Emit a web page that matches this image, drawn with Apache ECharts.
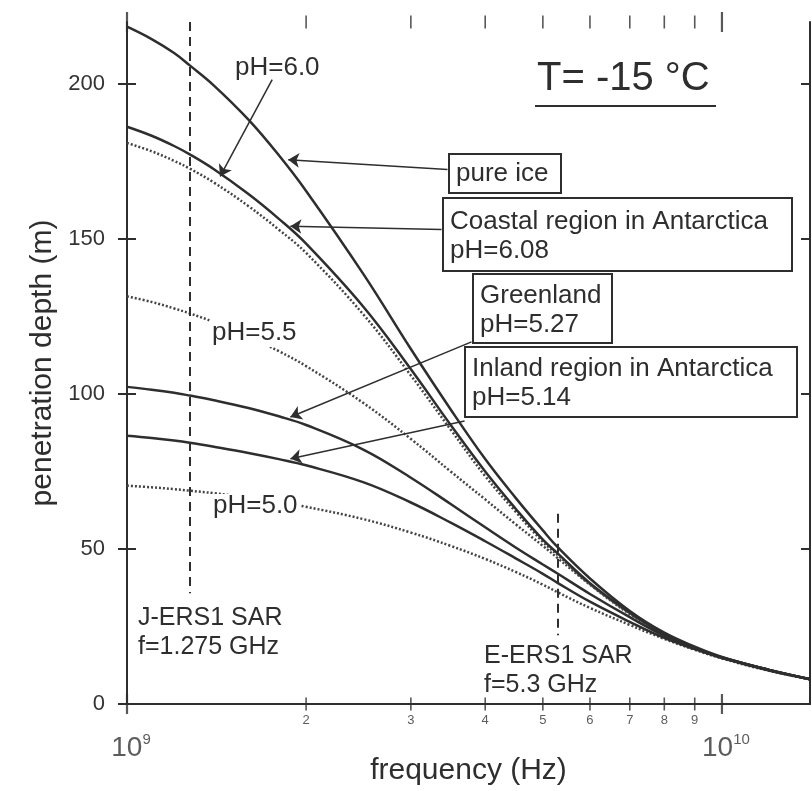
<!DOCTYPE html>
<html>
<head>
<meta charset="utf-8">
<script src="https://cdn.jsdelivr.net/npm/echarts@6/dist/echarts.min.js"></script>
<style>
  html, body { margin: 0; padding: 0; background: #fff; }
  #chart { width: 812px; height: 791px; }
</style>
</head>
<body>
<div id="chart"></div>
<script>
// frequencies in GHz
var freqGHz = [1.0, 1.1, 1.2, 1.275, 1.4, 1.6, 1.8, 2.0, 2.5, 3.0, 3.5, 4.0, 4.5, 5.0, 5.3, 6, 7, 8, 9, 10, 12, 14.06];
// penetration depth (m)
var pureIce   = [218.5, 214.5, 210, 206, 199.5, 188.5, 177, 165.5, 138.5, 114.5, 95, 79, 66.5, 56, 50.5, 40.5, 30, 23, 18.5, 15.2, 11, 8];
var coastal   = [186.2, 183.3, 180, 177.3, 172.5, 164.5, 156.5, 148.5, 128, 108, 90, 75, 63, 53, 48.5, 39, 29.5, 22.5, 18, 15, 11, 8];
var ph60      = [181, 178.3, 175.2, 172.7, 168.2, 160.6, 153, 145.5, 125.5, 106, 88.5, 73.5, 62, 52.3, 48, 38.7, 29.3, 22.5, 18, 15, 11, 8];
var ph55      = [131.5, 129.7, 127.6, 126, 123.2, 118.6, 113.8, 109, 97, 85.5, 75, 66, 58, 51, 47, 38.5, 29, 22.5, 18, 15, 11, 8];
var greenland = [102.3, 101.4, 100.4, 99.5, 98, 95.5, 92.8, 90, 82, 73, 64.5, 57, 50.5, 45, 42, 35.5, 28, 22, 18, 15, 11, 8];
var inland    = [86.5, 85.8, 85, 84.3, 83, 81, 79, 77, 71.5, 65, 58.5, 52.5, 47, 42, 39, 33, 26.5, 21.3, 17.7, 14.8, 10.8, 8];
var ph50      = [70.4, 69.9, 69.3, 68.8, 68, 66.6, 65.1, 63.6, 59.6, 55.3, 51, 46.8, 42.6, 38.5, 36, 31, 25.5, 21, 17.5, 14.7, 10.7, 8];

var yTicks = [0, 50, 100, 150, 200];
var minorTicks = [2, 3, 4, 5, 6, 7, 8, 9];   // x 1e9
var majorTicks = [1e9, 1e10];
var yMax = 220;

// satellites: [f (Hz), top depth, bottom depth]
var sarLines = [[1.275e9, 220, 35.7], [5.3e9, 61.4, 22.2]];
// arrows: [from f, from depth, to f, to depth]
var arrows = [
  [1.754e9, 201.4, 1.434e9, 170.2],
  [3.457e9, 172.4, 1.866e9, 175.6],
  [3.378e9, 153.1, 1.882e9, 154.1],
  [3.794e9, 116.8, 1.882e9, 92.6],
  [3.693e9, 91.3, 1.882e9, 79.1]
];

var FONT = 'Liberation Sans, Arial, sans-serif';
var INK = '#2e2e2e';

function pts(arr) {
  return freqGHz.map(function (f, i) { return [f * 1e9, arr[i]]; });
}

function curve(name, arr, dotted) {
  return {
    name: name,
    type: 'line',
    data: pts(arr),
    showSymbol: false,
    smooth: 0.4,
    itemStyle: { color: dotted ? '#444' : INK },
    lineStyle: dotted
      ? { color: '#444', width: 2.5, type: [2, 2] }
      : { color: INK, width: 2.5 },
    z: dotted ? 2 : 3
  };
}

var tickBottom = minorTicks.map(function (v) { return [v * 1e9, 0]; });
var tickTop = minorTicks.map(function (v) { return [v * 1e9, yMax]; });

var chart = echarts.init(document.getElementById('chart'));

function txt(x, y, s, size, extra) {
  var o = {
    type: 'text', x: x, y: y, z: 100,
    style: {
      text: s, fontSize: size, fontFamily: FONT, fill: INK,
      textVerticalAlign: 'middle', verticalAlign: 'middle', lineHeight: 29
    }
  };
  if (extra) Object.assign(o.style, extra);
  return o;
}
function box(x, y, w, h, stroke) {
  return {
    type: 'rect', z: 99,
    shape: { x: x, y: y, width: w, height: h },
    style: { fill: '#fff', stroke: stroke ? INK : null, lineWidth: 2 }
  };
}

var option = {
  animation: false,
  backgroundColor: '#fff',
  grid: { left: 127, right: 2, top: 22, bottom: 85 },
  xAxis: [{
    type: 'log', logBase: 10, min: 1e9, max: 1.406e10,
    axisLine: { lineStyle: { color: INK, width: 2 } },
    axisTick: { show: false }, axisLabel: { show: false }, splitLine: { show: false },
    name: 'frequency (Hz)', nameLocation: 'middle', nameGap: 52,
    nameTextStyle: { fontSize: 30, color: INK, fontFamily: FONT }
  }, {
    type: 'log', logBase: 10, min: 1e9, max: 1.406e10, position: 'top',
    axisLine: { lineStyle: { color: INK, width: 2 } },
    axisTick: { show: false }, axisLabel: { show: false }, splitLine: { show: false }
  }],
  yAxis: [{
    type: 'value', min: 0, max: yMax,
    axisLine: { show: true, lineStyle: { color: INK, width: 2 } },
    axisTick: { show: true, length: 9, customValues: yTicks, lineStyle: { color: INK, width: 2 } },
    axisLabel: { margin: 22, fontSize: 22, color: '#333', fontFamily: FONT, customValues: yTicks },
    splitLine: { show: false },
    name: 'penetration depth (m)', nameLocation: 'middle', nameGap: 68,
    nameTextStyle: { fontSize: 30, color: INK, fontFamily: FONT }
  }, {
    type: 'value', min: 0, max: yMax, position: 'left',
    axisLine: { show: false },
    axisTick: { show: true, inside: true, length: 9, customValues: yTicks, lineStyle: { color: INK, width: 2 } },
    axisLabel: { show: false }, splitLine: { show: false }
  }, {
    type: 'value', min: 0, max: yMax, position: 'right',
    axisLine: { show: true, lineStyle: { color: INK, width: 2 } },
    axisTick: { show: true, inside: true, length: 9, customValues: yTicks, lineStyle: { color: INK, width: 2 } },
    axisLabel: { show: false }, splitLine: { show: false }
  }],
  series: [
    Object.assign(curve('pure ice', pureIce, false), {
      markLine: {
        silent: true, symbol: ['none', 'arrow'], symbolSize: 11,
        label: { show: false },
        itemStyle: { color: INK },
        lineStyle: { color: INK, width: 1.5, type: 'solid' },
        data: arrows.map(function (a) {
          return [{ coord: [a[0], a[1]], symbol: 'none' }, { coord: [a[2], a[3]], symbol: 'arrow', symbolSize: 11 }];
        })
      }
    }),
    Object.assign(curve('Coastal region in Antarctica', coastal, false), {
      markLine: {
        silent: true, symbol: ['none', 'none'],
        label: { show: false },
        lineStyle: { color: INK, width: 2, type: [9, 6] },
        data: sarLines.map(function (s) { return [{ coord: [s[0], s[1]] }, { coord: [s[0], s[2]] }]; })
      }
    }),
    curve('pH=6.0', ph60, true),
    curve('pH=5.5', ph55, true),
    curve('Greenland', greenland, false),
    curve('Inland region in Antarctica', inland, false),
    curve('pH=5.0', ph50, true),
    {
      type: 'scatter', silent: true, clip: false, z: 5,
      data: tickBottom, symbol: 'rect', symbolSize: [1.6, 13],
      itemStyle: { color: INK },
      label: {
        show: true, position: 'bottom', distance: 3,
        fontSize: 13, color: '#333', fontFamily: FONT,
        formatter: function (p) { return String(Math.round(p.value[0] / 1e9)); }
      }
    },
    {
      type: 'scatter', silent: true, clip: false, z: 5,
      data: tickTop, symbol: 'rect', symbolSize: [1.6, 13],
      itemStyle: { color: INK }
    },
    {
      type: 'scatter', silent: true, clip: false, z: 5,
      data: majorTicks.map(function (v) { return [v, 0]; }), symbol: 'rect', symbolSize: [2.2, 20],
      itemStyle: { color: INK },
      label: {
        show: true, position: 'bottom', distance: 18, offset: [4, 0],
        formatter: function (p) { return '{b|10}{s|' + Math.round(Math.log10(p.value[0])) + '}'; },
        rich: {
          b: { fontSize: 28, color: '#333', fontFamily: FONT, lineHeight: 30, verticalAlign: 'bottom' },
          s: { fontSize: 15, color: '#333', fontFamily: FONT, lineHeight: 15, verticalAlign: 'top' }
        }
      }
    },
    {
      type: 'scatter', silent: true, clip: false, z: 5,
      data: majorTicks.map(function (v) { return [v, yMax]; }), symbol: 'rect', symbolSize: [2.2, 20],
      itemStyle: { color: INK }
    }
  ],
  graphic: [
    txt(537, 79, 'T= -15 °C', 40),
    { type: 'line', z: 100, shape: { x1: 535, y1: 106, x2: 716, y2: 106 }, style: { stroke: INK, lineWidth: 2 } },
    txt(235, 68, 'pH=6.0', 26),
    box(449, 154, 112, 39, true), txt(456, 174, 'pure ice', 26),
    box(443, 198, 349, 73, true), txt(450, 236, 'Coastal region in Antarctica\npH=6.08', 26),
    box(473, 274, 139, 69, true), txt(480, 310, 'Greenland\npH=5.27', 26),
    box(465, 347, 332, 70, true), txt(472, 383, 'Inland region in Antarctica\npH=5.14', 26),
    box(210, 319, 90, 28, false), txt(212, 333, 'pH=5.5', 26),
    box(211, 494, 89, 24, false), txt(213, 506, 'pH=5.0', 26),
    txt(138, 633, 'J-ERS1 SAR\nf=1.275 GHz', 25),
    txt(484, 671, 'E-ERS1 SAR\nf=5.3 GHz', 25)
  ]
};

chart.setOption(option);
window.addEventListener('resize', chart.resize);
</script>
</body>
</html>
